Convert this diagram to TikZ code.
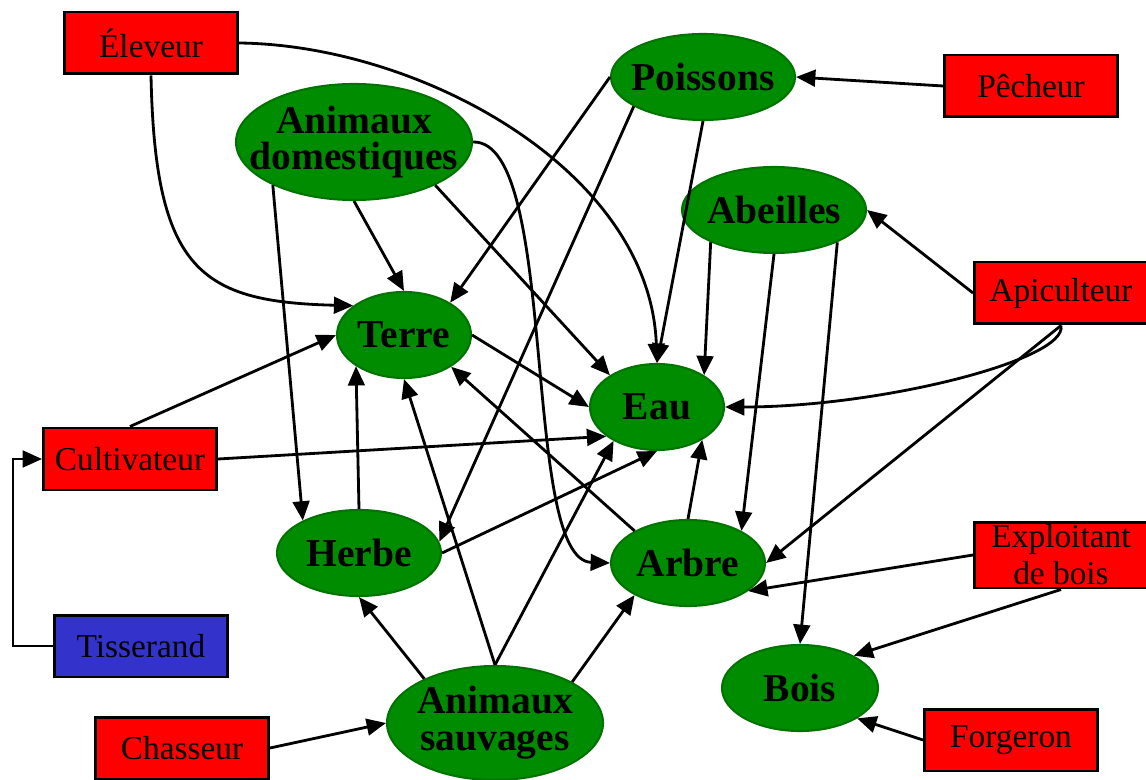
\documentclass[tikz,border=0pt]{standalone}
\usepackage{fontspec}
\setmainfont{Liberation Serif}
\usetikzlibrary{shapes.geometric,arrows.meta}

\definecolor{vert}{RGB}{0,140,0}
\definecolor{vertfonce}{RGB}{0,115,0}
\definecolor{rouge}{RGB}{255,0,0}
\definecolor{bleu}{RGB}{51,51,204}

\tikzset{
  acteur/.style={draw=black, line width=1.7pt, fill=rouge, minimum width=3.46cm,
    minimum height=1.24cm, inner sep=0pt, align=center, font=\fontsize{19}{21}\selectfont},
  milieu/.style={ellipse, draw=vertfonce, line width=1.2pt, fill=vert, inner sep=0pt},
  every label/.style={align=center, font=\fontsize{22.5}{21}\selectfont\bfseries},
  lien/.style={line width=1.6pt, ->},
}

\begin{document}
\begin{tikzpicture}[x=0.02cm, y=-0.02cm, >={Triangle[length=11pt,width=9.5pt]}]
  \useasboundingbox (0,0) rectangle (1146,780);
  % Acteurs
  \node[acteur] (eleveur) at (151,43) {Éleveur};
  \node[acteur] (pecheur) at (1031,86) {Pêcheur};
  \node[acteur] (apiculteur) at (1061,293) {Apiculteur};
  \node[acteur] (cultivateur) at (130,459) {Cultivateur};
  \node[acteur, fill=bleu] (tisserand) at (141,646) {Tisserand};
  \node[acteur] (chasseur) at (182,748) {Chasseur};
  \node[acteur, minimum height=1.32cm] (exploitant) at (1061,555) {Exploitant\\de bois};
  \node[acteur] (forgeron) at (1011,740) {Forgeron};
  % Milieux
  \node[milieu, minimum width=4.72cm, minimum height=2.32cm, label=center:Animaux\\domestiques] (domestiques) at (354,142) {};
  \node[milieu, minimum width=3.68cm, minimum height=1.72cm, label=center:Poissons] (poissons) at (703,77) {};
  \node[milieu, minimum width=3.68cm, minimum height=1.72cm, label=center:Abeilles] (abeilles) at (774,210) {};
  \node[milieu, minimum width=2.68cm, minimum height=1.72cm, label=center:Terre] (terre) at (404,335) {};
  \node[milieu, minimum width=2.68cm, minimum height=1.72cm, label=center:Eau] (eau) at (657,407) {};
  \node[milieu, minimum width=3.28cm, minimum height=1.72cm, label=center:Herbe] (herbe) at (359,553) {};
  \node[milieu, minimum width=3.08cm, minimum height=1.72cm, label=center:Arbre] (arbre) at (688,563) {};
  \node[milieu, minimum width=4.32cm, minimum height=2.28cm, label=center:Animaux\\sauvages] (sauvages) at (495,723) {};
  \node[milieu, minimum width=3.12cm, minimum height=1.72cm, label=center:Bois] (bois) at (800,688) {};
  % Eleveur
  \draw[lien] (eleveur.south) .. controls (155,270) and (200,302) .. (terre.150);
  \draw[lien] (eleveur.east) .. controls (420,45) and (650,170) .. (eau.north);
  % Pecheur, Apiculteur
  \draw[lien] (pecheur.west) -- (poissons.east);
  \draw[lien] (apiculteur.west) -- (abeilles.east);
  \draw[lien] (apiculteur.south) .. controls (1068,360) and (880,407) .. (eau.east);
  \draw[lien] (apiculteur.south) -- (arbre.east);
  % Exploitant, Forgeron, Chasseur
  \draw[lien] (exploitant.west) -- (arbre.-25);
  \draw[lien] (exploitant.south) -- (bois.31);
  \draw[lien] (forgeron.west) -- (bois.-28);
  \draw[lien] (chasseur.east) -- (sauvages.west);
  % Tisserand, Cultivateur
  \draw[lien] (tisserand.west) -- ++(-40,0) |- (cultivateur.west);
  \draw[lien] (cultivateur.north) -- (terre.west);
  \draw[lien] (cultivateur.east) -- (eau.210);
  % Animaux domestiques
  \draw[lien] (domestiques.south) -- (terre.north);
  \draw[lien] (domestiques.-28) -- (eau.146);
  \draw[lien] (domestiques.208) -- (herbe.150);
  \draw[lien] (domestiques.east) .. controls (560,140) and (520,560) .. (arbre.west);
  % Poissons
  \draw[lien] (poissons.west) -- (terre.35);
  \draw[lien] (poissons.203) -- (herbe.8);
  \draw[lien] (poissons.south) -- (eau.north);
  % Abeilles
  \draw[lien] (abeilles.207) -- (eau.34);
  \draw[lien] (abeilles.south) -- (arbre.31);
  \draw[lien] (abeilles.-27) -- (bois.north);
  % Terre, Herbe, Arbre
  \draw[lien] (terre.east) -- (eau.west);
  \draw[lien] (herbe.north) -- (terre.213);
  \draw[lien] (herbe.east) -- (eau.south);
  \draw[lien] (arbre.149) -- (terre.-34);
  \draw[lien] (arbre.north) -- (eau.-36);
  % Animaux sauvages
  \draw[lien] (sauvages.148) -- (herbe.south);
  \draw[lien] (sauvages.north) -- (terre.south);
  \draw[lien] (sauvages.north) -- (eau.218);
  \draw[lien] (sauvages.28) -- (arbre.211);
\end{tikzpicture}
\end{document}
